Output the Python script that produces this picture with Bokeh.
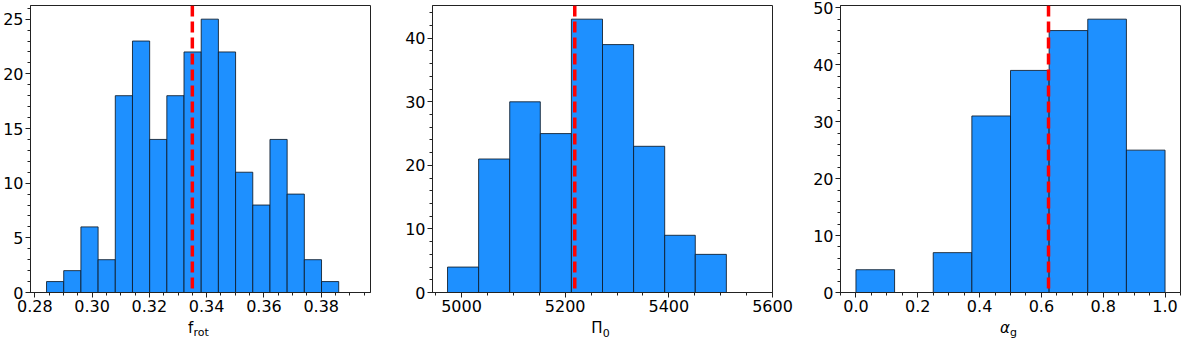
from bokeh.plotting import figure
from bokeh.layouts import row, column
from bokeh.models import (FixedTicker, Label, Span, Range1d, ColumnDataSource,
                          NumeralTickFormatter)
from bokeh.embed import file_html
from bokeh.resources import INLINE

# ---- Data ----
frot_edges = [0.2841, 0.2901, 0.2961, 0.3021, 0.3081, 0.3141, 0.3201, 0.3261, 0.3321,
              0.3381, 0.3441, 0.3501, 0.3561, 0.3621, 0.3681, 0.3741, 0.3801, 0.3861]
frot_counts = [1, 2, 6, 3, 18, 23, 14, 18, 22, 25, 22, 11, 8, 14, 9, 3, 1]
frot_best = 0.335
frot_ticks = [0.28, 0.30, 0.32, 0.34, 0.36, 0.38]

pi0_edges = [4973, 5033, 5093, 5152, 5212, 5272, 5332, 5392, 5451, 5511]
pi0_counts = [4, 21, 30, 25, 43, 39, 23, 9, 6]
pi0_best = 5218.5
pi0_ticks = [5000, 5200, 5400, 5600]

alpha_edges = [0.0, 0.125, 0.25, 0.375, 0.5, 0.625, 0.75, 0.875, 1.0]
alpha_counts = [4, 0, 7, 31, 39, 46, 48, 25]
alpha_best = 0.623
alpha_ticks = [0.0, 0.2, 0.4, 0.6, 0.8, 1.0]

FONT = "DejaVu Sans"
SPINE = "#222222"
FRAME_W = 340
TOP = 5
BOTTOM = 26
STRIP_H = 21
FRAME_H = 339 - (TOP + BOTTOM + STRIP_H)


def minor_list(start, stop, step):
    n = int(round((stop - start) / step))
    return [round(start + i * step, 6) for i in range(n + 1)]


def make_panel(edges, counts, best, xticks, xminor, yticks, yminor, xr, yr,
               bl, br, fmt):
    p = figure(frame_width=FRAME_W, frame_height=FRAME_H,
               min_border_left=bl, min_border_right=br,
               min_border_top=TOP, min_border_bottom=BOTTOM,
               x_range=Range1d(*xr), y_range=Range1d(*yr),
               output_backend="svg", toolbar_location=None,
               background_fill_color="white", border_fill_color="white")
    src = ColumnDataSource(dict(left=edges[:-1], right=edges[1:], top=counts,
                                bottom=[0] * len(counts)))
    p.quad(left="left", right="right", top="top", bottom="bottom", source=src,
           fill_color="#1E90FF", line_color="#0d1b2a", line_width=1,
           line_alpha=0.85)
    p.add_layout(Span(location=best, dimension="height", line_color="red",
                      line_width=3.5, line_dash="11 5"))
    p.xgrid.visible = False
    p.ygrid.visible = False
    p.outline_line_color = SPINE
    p.outline_line_width = 1
    p.outline_line_alpha = 1
    p.xaxis.ticker = FixedTicker(ticks=xticks, minor_ticks=xminor)
    p.yaxis.ticker = FixedTicker(ticks=yticks, minor_ticks=yminor)
    if fmt:
        p.xaxis.formatter = NumeralTickFormatter(format=fmt)
    for ax in (p.xaxis[0], p.yaxis[0]):
        ax.axis_line_color = SPINE
        ax.major_tick_line_color = SPINE
        ax.minor_tick_line_color = SPINE
        ax.major_tick_out = 5
        ax.major_tick_in = 0
        ax.minor_tick_out = 3
        ax.minor_tick_in = 0
        ax.major_label_text_font = FONT
        ax.major_label_text_font_size = "16px"
        ax.major_label_text_color = "black"
        ax.major_label_standoff = 2
    return p


def make_strip(total_w, center, main_txt, sub_txt, italic, main_w, sub_w):
    s = figure(frame_width=total_w, frame_height=STRIP_H,
               min_border_left=0, min_border_right=0, min_border_top=0,
               min_border_bottom=0, x_range=Range1d(0, total_w),
               y_range=Range1d(0, STRIP_H), output_backend="svg",
               toolbar_location=None, outline_line_color=None)
    s.axis.visible = False
    s.grid.visible = False
    x0 = center - (main_w + sub_w) / 2
    s.add_layout(Label(x=x0, y=11.5, text=main_txt, text_font=FONT,
                       text_font_size="15px",
                       text_font_style="italic" if italic else "normal",
                       text_color="black", text_align="left",
                       text_baseline="middle"))
    s.add_layout(Label(x=x0 + main_w, y=7, text=sub_txt, text_font=FONT,
                       text_font_size="11px", text_color="black",
                       text_align="left", text_baseline="middle"))
    return s


BL = [28, 44, 46]
BR = [18, 22, 6]

p1 = make_panel(frot_edges, frot_counts, frot_best, frot_ticks,
                minor_list(0.28, 0.395, 0.005), [0, 5, 10, 15, 20, 25],
                list(range(0, 27)), (0.2785, 0.3972), (0, 26.25),
                BL[0], BR[0], "0.00")
p2 = make_panel(pi0_edges, pi0_counts, pi0_best, pi0_ticks,
                minor_list(4950, 5600, 50), [0, 10, 20, 30, 40],
                list(range(0, 46, 2)), (4944, 5600), (0, 45.15),
                BL[1], BR[1], None)
p3 = make_panel(alpha_edges, alpha_counts, alpha_best, alpha_ticks,
                minor_list(-0.05, 1.05, 0.05), [0, 10, 20, 30, 40, 50],
                list(range(0, 51, 2)), (-0.05, 1.05), (0, 50.4),
                BL[2], BR[2], "0.0")

s1 = make_strip(BL[0] + FRAME_W + BR[0], BL[0] + FRAME_W / 2, "f", "rot",
                False, 5.5, 15.5)
s2 = make_strip(BL[1] + FRAME_W + BR[1], BL[1] + FRAME_W / 2, "Π", "0",
                False, 11.5, 7)
s3 = make_strip(BL[2] + FRAME_W + BR[2], BL[2] + FRAME_W / 2, "α", "g",
                True, 10, 7)

layout = column(row(p1, p2, p3), row(s1, s2, s3))
open("out.html", "w").write(file_html(layout, INLINE))
